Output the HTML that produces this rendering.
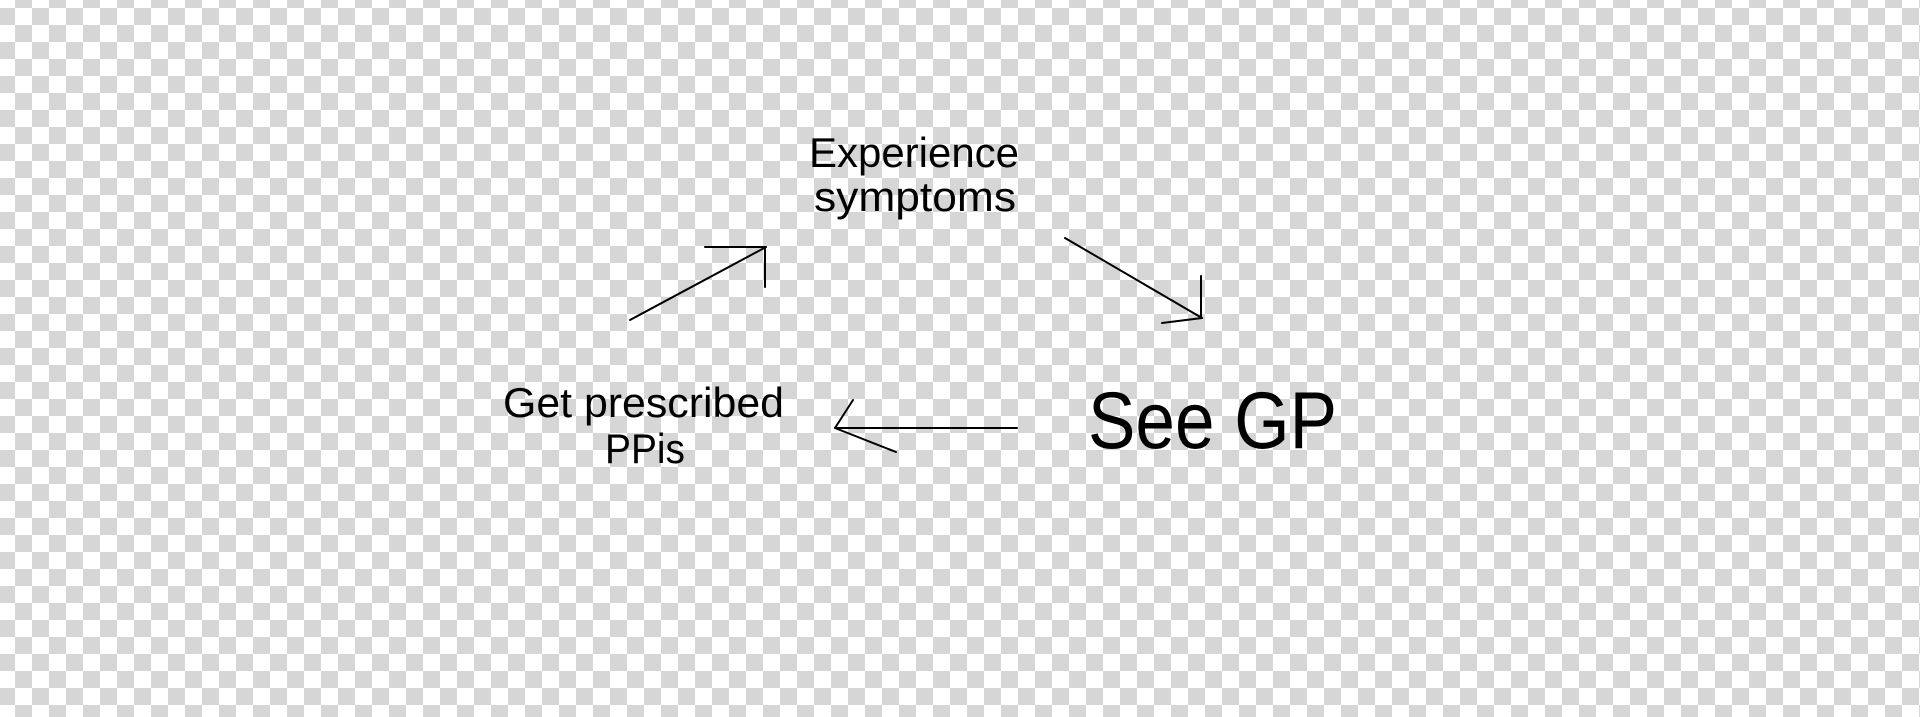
<!DOCTYPE html>
<html><head><style>
html,body{margin:0;padding:0}
body{width:1920px;height:717px;overflow:hidden;background-color:#fff;
background-image:repeating-conic-gradient(#d6d6d6 0 25%,#fff 0 50%);
background-size:34px 34px;background-position:-2px -9px}
svg{position:absolute;left:0;top:0}
text{font-family:"Liberation Sans",sans-serif;fill:#000}
</style></head><body>
<svg width="1920" height="717" viewBox="0 0 1920 717">
<g font-size="42">
<text x="809" y="167" textLength="210" lengthAdjust="spacingAndGlyphs">Experience</text>
<text x="814" y="211" textLength="202" lengthAdjust="spacingAndGlyphs">symptoms</text>
<text x="503" y="417" textLength="281" lengthAdjust="spacingAndGlyphs">Get prescribed</text>
<text x="605" y="463" textLength="80" lengthAdjust="spacingAndGlyphs">PPis</text>
</g>
<text x="1088" y="448" font-size="81" textLength="249" lengthAdjust="spacingAndGlyphs">See GP</text>
<g stroke="#000" stroke-width="2" fill="none" stroke-linecap="round">
<line x1="630" y1="320" x2="766" y2="247"/>
<line x1="705" y1="247" x2="766" y2="247"/>
<line x1="765" y1="247" x2="765" y2="287"/>
<line x1="1065" y1="238" x2="1202" y2="318"/>
<line x1="1201" y1="276" x2="1201" y2="318"/>
<line x1="1162" y1="323" x2="1202" y2="318"/>
<line x1="1017" y1="428" x2="835" y2="428"/>
<line x1="835" y1="428" x2="853" y2="400"/>
<line x1="835" y1="428" x2="896" y2="452"/>
</g>
</svg>
</body></html>
